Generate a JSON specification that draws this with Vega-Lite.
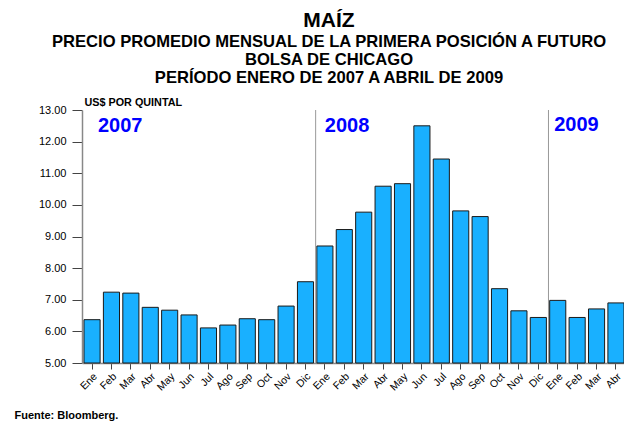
{
  "$schema": "https://vega.github.io/schema/vega-lite/v6.json",
  "width": 542,
  "height": 253,
  "autosize": {"type": "none"},
  "padding": {"left": 82, "top": 110, "right": 0, "bottom": 58},
  "background": "white",
  "config": {
    "font": "Liberation Sans",
    "view": {"stroke": null},
    "axisY": {
      "grid": false,
      "labelOverlap": false,
      "tickSize": 10,
      "tickColor": "#444444",
      "domainColor": "#888888",
      "domainWidth": 1.5,
      "labelPadding": 6,
      "labelFontSize": 11,
      "labelColor": "#000000",
      "titleAngle": 0,
      "titleAlign": "left",
      "titleBaseline": "alphabetic",
      "titleX": 2,
      "titleY": -5,
      "titleFontSize": 10.8,
      "titleFontWeight": "bold",
      "titleColor": "#000000"
    }
  },
  "title": {
    "text": "MAÍZ",
    "subtitle": ["PRECIO PROMEDIO MENSUAL DE LA PRIMERA POSICIÓN A FUTURO", "BOLSA DE CHICAGO", "PERÍODO ENERO DE 2007 A ABRIL DE 2009"],
    "anchor": "middle",
    "frame": "group",
    "dx": -24,
    "offset": 9,
    "font": "Liberation Sans",
    "fontSize": 21,
    "fontWeight": "bold",
    "color": "#000000",
    "subtitleFont": "Liberation Sans",
    "subtitleFontSize": 16.6,
    "subtitleFontWeight": "bold",
    "subtitleColor": "#000000",
    "subtitleLineHeight": 18,
    "subtitlePadding": 3
  },
  "data": {
    "values": [
      {"clave": "Ene 2007", "precio": 6.37},
      {"clave": "Feb 2007", "precio": 7.24},
      {"clave": "Mar 2007", "precio": 7.21},
      {"clave": "Abr 2007", "precio": 6.76},
      {"clave": "May 2007", "precio": 6.67},
      {"clave": "Jun 2007", "precio": 6.52},
      {"clave": "Jul 2007", "precio": 6.11},
      {"clave": "Ago 2007", "precio": 6.20},
      {"clave": "Sep 2007", "precio": 6.40},
      {"clave": "Oct 2007", "precio": 6.37},
      {"clave": "Nov 2007", "precio": 6.80},
      {"clave": "Dic 2007", "precio": 7.57},
      {"clave": "Ene 2008", "precio": 8.70},
      {"clave": "Feb 2008", "precio": 9.22},
      {"clave": "Mar 2008", "precio": 9.77},
      {"clave": "Abr 2008", "precio": 10.59},
      {"clave": "May 2008", "precio": 10.67},
      {"clave": "Jun 2008", "precio": 12.50},
      {"clave": "Jul 2008", "precio": 11.45},
      {"clave": "Ago 2008", "precio": 9.81},
      {"clave": "Sep 2008", "precio": 9.63},
      {"clave": "Oct 2008", "precio": 7.35},
      {"clave": "Nov 2008", "precio": 6.65},
      {"clave": "Dic 2008", "precio": 6.44},
      {"clave": "Ene 2009", "precio": 6.98},
      {"clave": "Feb 2009", "precio": 6.44},
      {"clave": "Mar 2009", "precio": 6.71},
      {"clave": "Abr 2009", "precio": 6.90}
    ]
  },
  "encoding": {
    "x": {
      "field": "clave",
      "type": "nominal",
      "sort": null,
      "scale": {"paddingInner": 0.17, "paddingOuter": 0.0515, "align": 1},
      "axis": {
        "labelExpr": "split(datum.label, ' ')[0]",
        "labelAngle": -45,
        "labelFontSize": 10.5,
        "labelColor": "#000000",
        "labelPadding": 2,
        "labelOverlap": false,
        "tickSize": 6,
        "tickColor": "#444444",
        "domainColor": "#888888",
        "domainWidth": 1.5,
        "title": "Fuente: Bloomberg.",
        "titleFontSize": 11,
        "titleFontWeight": "bold",
        "titleColor": "#000000",
        "titleAnchor": "start",
        "titleAlign": "left",
        "titleBaseline": "middle",
        "titleX": -68,
        "titleY": 52
      }
    }
  },
  "layer": [
    {
      "mark": {"type": "bar", "color": "#19b0ff", "stroke": "#1a1a1a", "strokeWidth": 1},
      "encoding": {
        "y": {
          "field": "precio",
          "type": "quantitative",
          "scale": {"domain": [5, 13], "zero": false, "nice": false},
          "axis": {"values": [5, 6, 7, 8, 9, 10, 11, 12, 13], "format": ".2f", "title": "US$ POR QUINTAL"}
        },
        "y2": {"datum": 5}
      }
    },
    {
      "transform": [{"filter": "datum.clave === 'Ene 2008' || datum.clave === 'Ene 2009'"}],
      "mark": {"type": "rule", "color": "#999999", "strokeWidth": 1, "xOffset": -1.2},
      "encoding": {
        "x": {"field": "clave", "type": "nominal", "sort": null, "bandPosition": 0}
      }
    },
    {
      "transform": [{"filter": "datum.clave === 'Ene 2007'"}],
      "mark": {"type": "text", "text": "2007", "align": "left", "baseline": "alphabetic", "dx": 14, "fontSize": 20, "fontWeight": "bold", "color": "#0000ff"},
      "encoding": {
        "x": {"field": "clave", "type": "nominal", "sort": null, "bandPosition": 0},
        "y": {"datum": 12.29, "type": "quantitative", "axis": {"values": [5, 6, 7, 8, 9, 10, 11, 12, 13], "format": ".2f", "title": "US$ POR QUINTAL"}}
      }
    },
    {
      "transform": [{"filter": "datum.clave === 'Ene 2008'"}],
      "mark": {"type": "text", "text": "2008", "align": "left", "baseline": "alphabetic", "dx": 8, "fontSize": 20, "fontWeight": "bold", "color": "#0000ff"},
      "encoding": {
        "x": {"field": "clave", "type": "nominal", "sort": null, "bandPosition": 0},
        "y": {"datum": 12.29, "type": "quantitative", "axis": {"values": [5, 6, 7, 8, 9, 10, 11, 12, 13], "format": ".2f", "title": "US$ POR QUINTAL"}}
      }
    },
    {
      "transform": [{"filter": "datum.clave === 'Ene 2009'"}],
      "mark": {"type": "text", "text": "2009", "align": "left", "baseline": "alphabetic", "dx": 4.5, "fontSize": 20, "fontWeight": "bold", "color": "#0000ff"},
      "encoding": {
        "x": {"field": "clave", "type": "nominal", "sort": null, "bandPosition": 0},
        "y": {"datum": 12.35, "type": "quantitative", "axis": {"values": [5, 6, 7, 8, 9, 10, 11, 12, 13], "format": ".2f", "title": "US$ POR QUINTAL"}}
      }
    }
  ]
}
